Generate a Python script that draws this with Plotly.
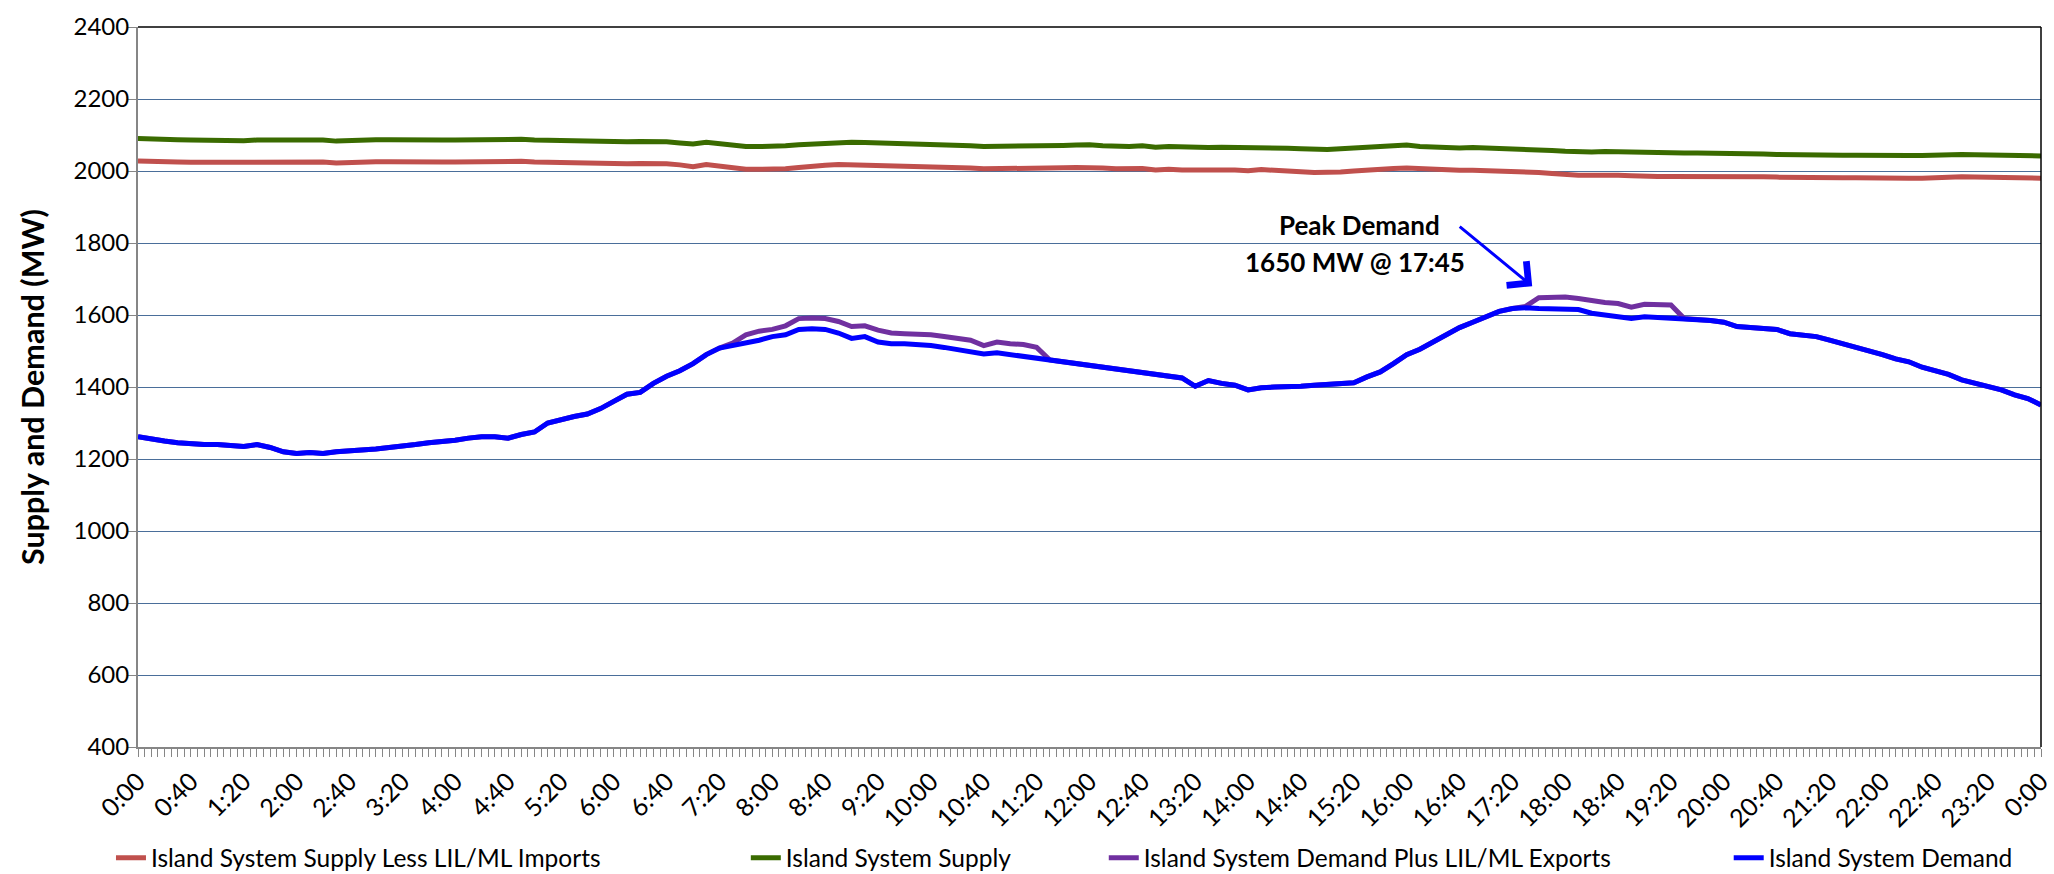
import plotly.graph_objects as go

# time of day in minutes (10-minute readings, 0:00 to 0:00 next day)
minutes = list(range(0, 1441, 10))

supply_less_imports = [
    2028, 2028, 2026, 2025, 2024, 2024,
    2025, 2024, 2023, 2025, 2025, 2024,
    2025, 2026, 2025, 2022, 2024, 2025,
    2026, 2026, 2025, 2024, 2024, 2025,
    2025, 2026, 2027, 2028, 2029, 2027,
    2025, 2024, 2024, 2023, 2022, 2021,
    2021, 2020, 2021, 2022, 2020, 2017,
    2012, 2018, 2014, 2008, 2005, 2005,
    2004, 2006, 2010, 2014, 2016, 2018,
    2017, 2016, 2016, 2016, 2015, 2014,
    2014, 2012, 2010, 2008, 2006, 2006,
    2007, 2007, 2006, 2008, 2009, 2010,
    2010, 2008, 2006, 2006, 2007, 2003,
    2005, 2003, 2004, 2002, 2003, 2003,
    2001, 2004, 2003, 2000, 1998, 1996,
    1995, 1997, 2000, 2003, 2005, 2007,
    2008, 2006, 2004, 2003, 2002, 2002,
    2001, 2000, 1998, 1999, 1996, 1993,
    1990, 1988, 1988, 1989, 1988, 1987,
    1985, 1985, 1985, 1985, 1985, 1986,
    1987, 1985, 1984, 1984, 1983, 1982,
    1982, 1981, 1981, 1981, 1981, 1980,
    1980, 1980, 1980, 1980, 1982, 1984,
    1984, 1983, 1983, 1982, 1981, 1980,
    1980,
]

island_supply = [
    2090, 2090, 2088, 2087, 2086, 2085,
    2086, 2085, 2084, 2086, 2086, 2085,
    2086, 2087, 2086, 2083, 2085, 2086,
    2087, 2087, 2086, 2085, 2085, 2086,
    2086, 2087, 2088, 2089, 2090, 2088,
    2086, 2085, 2085, 2084, 2083, 2082,
    2082, 2081, 2082, 2083, 2081, 2078,
    2075, 2080, 2076, 2070, 2068, 2068,
    2068, 2070, 2073, 2075, 2078, 2080,
    2080, 2079, 2078, 2078, 2077, 2076,
    2076, 2074, 2073, 2070, 2068, 2068,
    2070, 2069, 2068, 2070, 2071, 2072,
    2073, 2070, 2068, 2068, 2070, 2066,
    2068, 2066, 2067, 2065, 2066, 2066,
    2064, 2066, 2065, 2063, 2062, 2060,
    2060, 2062, 2065, 2066, 2068, 2070,
    2072, 2068, 2066, 2065, 2064, 2065,
    2064, 2062, 2060, 2062, 2060, 2057,
    2055, 2053, 2053, 2054, 2053, 2052,
    2050, 2050, 2050, 2050, 2050, 2050,
    2050, 2048, 2047, 2047, 2046, 2045,
    2045, 2044, 2044, 2044, 2044, 2043,
    2043, 2043, 2043, 2043, 2045, 2046,
    2046, 2045, 2045, 2044, 2043, 2042,
    2042,
]

demand_plus_exports = [
    1262, 1255, 1250, 1245, 1242, 1240,
    1240, 1238, 1235, 1240, 1232, 1220,
    1215, 1218, 1215, 1220, 1222, 1225,
    1228, 1232, 1235, 1240, 1245, 1248,
    1252, 1258, 1262, 1262, 1258, 1268,
    1275, 1300, 1310, 1318, 1325, 1340,
    1360, 1380, 1385, 1410, 1430, 1445,
    1465, 1490, 1508, 1522, 1545, 1555,
    1560, 1570, 1590, 1592, 1590, 1582,
    1568, 1570, 1558, 1550, 1548, 1548,
    1545, 1540, 1535, 1530, 1515, 1525,
    1520, 1518, 1510, 1475, 1470, 1465,
    1460, 1455, 1450, 1445, 1440, 1435,
    1430, 1425, 1402, 1418, 1410, 1405,
    1392, 1398, 1400, 1400, 1402, 1405,
    1408, 1410, 1412, 1428, 1442, 1465,
    1490, 1505, 1525, 1545, 1565, 1580,
    1595, 1610, 1618, 1624, 1648, 1650,
    1650, 1646, 1640, 1635, 1632, 1622,
    1630, 1630, 1628, 1590, 1588, 1585,
    1580, 1568, 1565, 1562, 1560, 1548,
    1545, 1540, 1530, 1520, 1512, 1500,
    1490, 1478, 1470, 1455, 1445, 1435,
    1420, 1410, 1400, 1392, 1378, 1368,
    1350,
]

island_demand = [
    1262, 1255, 1250, 1245, 1242, 1240,
    1240, 1238, 1235, 1240, 1232, 1220,
    1215, 1218, 1215, 1220, 1222, 1225,
    1228, 1232, 1235, 1240, 1245, 1248,
    1252, 1258, 1262, 1262, 1258, 1268,
    1275, 1300, 1310, 1318, 1325, 1340,
    1360, 1380, 1385, 1410, 1430, 1445,
    1465, 1490, 1508, 1515, 1520, 1530,
    1540, 1545, 1560, 1562, 1560, 1550,
    1535, 1540, 1525, 1520, 1520, 1518,
    1515, 1510, 1505, 1500, 1492, 1495,
    1490, 1485, 1480, 1475, 1470, 1465,
    1460, 1455, 1450, 1445, 1440, 1435,
    1430, 1425, 1402, 1418, 1410, 1405,
    1392, 1398, 1400, 1400, 1402, 1405,
    1408, 1410, 1412, 1428, 1442, 1465,
    1490, 1505, 1525, 1545, 1565, 1580,
    1595, 1610, 1618, 1620, 1618, 1618,
    1618, 1615, 1605, 1600, 1595, 1590,
    1595, 1593, 1592, 1590, 1588, 1585,
    1580, 1568, 1565, 1562, 1560, 1548,
    1545, 1540, 1530, 1520, 1512, 1500,
    1490, 1478, 1470, 1455, 1445, 1435,
    1420, 1410, 1400, 1392, 1378, 1368,
    1350,
]

tick_minutes = list(range(0, 1441, 40))
tick_labels = ["0:00", "0:40", "1:20", "2:00", "2:40", "3:20", "4:00", "4:40",
               "5:20", "6:00", "6:40", "7:20", "8:00", "8:40", "9:20", "10:00",
               "10:40", "11:20", "12:00", "12:40", "13:20", "14:00", "14:40",
               "15:20", "16:00", "16:40", "17:20", "18:00", "18:40", "19:20",
               "20:00", "20:40", "21:20", "22:00", "22:40", "23:20", "0:00"]

series_names = ["Island System Supply Less LIL/ML Imports", "Island System Supply",
                "Island System Demand Plus LIL/ML Exports", "Island System Demand"]
series_values = [supply_less_imports, island_supply, demand_plus_exports, island_demand]
series_colors = ["#C0504D", "#3A6B00", "#7030A0", "#0000FF"]
legend_ids = ["legend", "legend2", "legend3", "legend4"]
legend_x = [-0.0142, 0.3194, 0.5075, 0.8359]

FONT = "Lato, 'Open Sans', sans-serif"

fig = go.Figure()
for name, vals, col, lid in zip(series_names, series_values, series_colors, legend_ids):
    fig.add_trace(go.Scatter(x=minutes, y=vals, mode="lines", name=name,
                             line=dict(color=col, width=5), legend=lid))

legend_common = dict(orientation="h", yanchor="middle", xanchor="left",
                     font=dict(family=FONT, size=24.5, color="black"),
                     bgcolor="rgba(0,0,0,0)", itemwidth=30, tracegroupgap=0)
layout_legends = {}
for lid, lx in zip(legend_ids, legend_x):
    layout_legends[lid] = dict(x=lx, y=-0.154, **legend_common)

fig.update_layout(
    width=2054, height=874,
    margin=dict(l=138, r=13, t=27, b=127, autoexpand=False),
    plot_bgcolor="white", paper_bgcolor="white",
    font=dict(family=FONT, size=24, color="black"),
    showlegend=True,
    **layout_legends,
    xaxis=dict(range=[0, 1440], tickvals=tick_minutes, ticktext=tick_labels,
               tickangle=-45, ticks="outside", ticklen=8, tickcolor="#868686",
               showline=True, linecolor="#868686", linewidth=2,
               showgrid=False, zeroline=False, automargin=False,
               tickfont=dict(family=FONT, size=25, color="black"),
               minor=dict(dtick=5, tick0=0, ticks="outside", ticklen=8,
                          tickcolor="#868686", showgrid=False)),
    yaxis=dict(range=[400, 2400], dtick=200, ticks="outside", ticklen=8,
               tickcolor="#868686", showline=True, linecolor="#868686", linewidth=2,
               showgrid=True, gridcolor="#4A6E9A", gridwidth=1.3, zeroline=False,
               automargin=False, ticklabelstandoff=-6,
               tickfont=dict(family=FONT, size=24, color="black"),
               title=dict(text="Supply and Demand (MW)", standoff=20,
                          font=dict(family=FONT, size=30.5, color="black", weight="bold"))),
)

# black frame on top and right of plot area
fig.add_shape(type="line", xref="paper", yref="paper", x0=0, x1=1, y0=1, y1=1,
              line=dict(color="black", width=1.5))
fig.add_shape(type="line", xref="paper", yref="paper", x0=1, x1=1, y0=0, y1=1,
              line=dict(color="black", width=1.5))

# annotation
fig.add_annotation(x=924, y=1849, xref="x", yref="y", text="<b>Peak Demand</b>",
                   showarrow=False, font=dict(family=FONT, size=26, color="black"))
fig.add_annotation(x=921, y=1746, xref="x", yref="y", text="<b>1650 MW @ 17:45</b>",
                   showarrow=False, font=dict(family=FONT, size=26, color="black"))
fig.add_annotation(x=1055, y=1680, ax=999, ay=1849, xref="x", yref="y",
                   axref="x", ayref="y", text="", showarrow=True,
                   arrowhead=4, arrowsize=2, arrowwidth=3, arrowcolor="#0000FF")

fig.write_html("out.html", config={"displayModeBar": False},
               post_script="document.body.style.margin='0px';document.body.style.padding='0px';")
